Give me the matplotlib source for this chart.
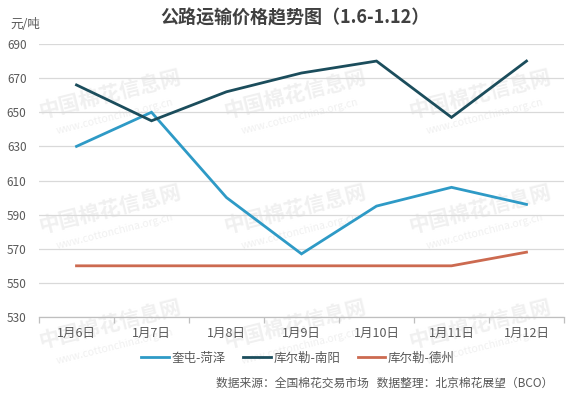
#recreates the road freight price trend chart
import matplotlib
matplotlib.use("Agg")
import matplotlib.pyplot as plt
import numpy as np

plt.rcParams['font.family'] = ['Noto Sans CJK SC', 'DejaVu Sans']

# data
dates = ['1月6日', '1月7日', '1月8日', '1月9日', '1月10日', '1月11日', '1月12日']
kuitun_heze = [630, 650, 600, 567, 595, 606, 596]
korla_nanyang = [666, 645, 662, 673, 680, 647, 680]
korla_dezhou = [560, 560, 560, 560, 560, 560, 568]
series_names = ['奎屯-菏泽', '库尔勒-南阳', '库尔勒-德州']
yticks = [530, 550, 570, 590, 610, 630, 650, 670, 690]

colors = ['#2e9ac6', '#1b4d5c', '#cc6a50']
grey = '#595959'

fig = plt.figure(figsize=(5.79, 3.95), dpi=100)
ax = fig.add_axes([39 / 579, 1 - 317 / 395, (564 - 39) / 579, (317 - 44) / 395])

x = np.arange(len(dates))
for vals, name, c in zip([kuitun_heze, korla_nanyang, korla_dezhou], series_names, colors):
    ax.plot(x, vals, color=c, lw=2.0, label=name, zorder=3, solid_joinstyle='miter')

ax.set_xlim(-0.5, len(dates) - 0.5)
ax.set_ylim(yticks[0], yticks[-1])
ax.set_yticks(yticks)
ax.set_xticks(x)
ax.set_xticklabels(dates)
ax.set_xticks(np.arange(len(dates) + 1) - 0.5, minor=True)

# grid + axis styling
ax.grid(axis='y', color='#d9d9d9', lw=0.9, zorder=0.5)
ax.set_axisbelow(True)
for s in ['top', 'right', 'left']:
    ax.spines[s].set_visible(False)
ax.spines['bottom'].set_color('#bfbfbf')
ax.spines['bottom'].set_linewidth(0.9)
ax.tick_params(axis='y', length=0, pad=9, labelsize=8.5, labelcolor=grey)
ax.tick_params(axis='x', which='major', length=0, pad=7, labelsize=9, labelcolor=grey)
ax.tick_params(axis='x', which='minor', length=4, color='#bfbfbf', width=0.9)

# watermarks, kept under everything else
for wx in [110, 295, 480]:
    for wy in [95, 210, 325]:
        ax.text(wx / 579, 1 - wy / 395, '中国棉花信息网', transform=fig.transFigure,
                fontsize=15, fontweight='bold', color='#f0f0f0', rotation=14,
                ha='center', va='center', zorder=0.2, clip_on=False)
        ax.text((wx + 5) / 579, 1 - (wy + 22) / 395, 'www.cottonchina.org.cn',
                transform=fig.transFigure, fontsize=7.5, color='#f0f0f0', rotation=14,
                ha='center', va='center', zorder=0.2, clip_on=False)

fig.text(0.51, 1 - 18 / 395, '公路运输价格趋势图（1.6-1.12）', ha='center', va='center',
         fontsize=13, fontweight='bold', color='#404040')
fig.text(10 / 579, 1 - 25 / 395, '元/吨', ha='left', va='center', fontsize=9, color=grey)

fig.legend(loc='center', bbox_to_anchor=(298 / 579, 1 - 358 / 395), ncol=3, frameon=False,
           fontsize=9, handlelength=2.2, handletextpad=0.2, columnspacing=1.4,
           labelcolor=grey)

fig.text(553 / 579, 1 - 383 / 395, '数据来源：全国棉花交易市场   数据整理：北京棉花展望（BCO）',
         ha='right', va='center', fontsize=8.5, color=grey)

fig.savefig('out.png', dpi=100)
